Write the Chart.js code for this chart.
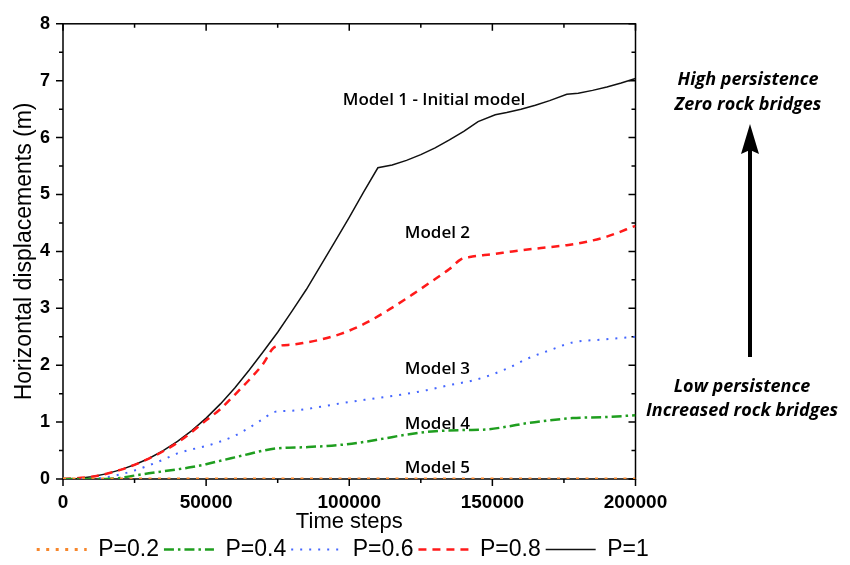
<!DOCTYPE html>
<html>
<head>
<meta charset="utf-8">
<script src="https://cdn.jsdelivr.net/npm/chart.js@4.4.1/dist/chart.umd.min.js"></script>
<style>
  html, body { margin: 0; padding: 0; background: #fff; }
</style>
</head>
<body>
<canvas id="myChart" width="850" height="565"></canvas>
<script>
  // values
  const seriesLabels = ['P=0.2', 'P=0.4', 'P=0.6', 'P=0.8', 'P=1'];

  const stepsP02 = [0, 50000, 100000, 150000, 200000];
  const dispP02 = [0, 0, 0, 0, 0];

  const stepsP04 = [0, 15000, 20000, 25000, 30000, 40000, 45000, 50000, 55000, 60000, 65000, 70000, 75000, 85000, 97000, 105000, 112000, 120000, 130000, 140000, 148000, 155000, 162000, 170000, 178000, 190000, 200000];
  const dispP04 = [0, 0, 0.02, 0.06, 0.1, 0.17, 0.21, 0.26, 0.32, 0.38, 0.44, 0.5, 0.54, 0.56, 0.6, 0.65, 0.71, 0.78, 0.84, 0.86, 0.87, 0.92, 0.98, 1.03, 1.07, 1.09, 1.12];

  const stepsP06 = [0, 10000, 15000, 20000, 25000, 30000, 35000, 40000, 45000, 50000, 55000, 60000, 65000, 70000, 74000, 80000, 90000, 97000, 108000, 118000, 127000, 136000, 143000, 149000, 156000, 162000, 171000, 178000, 188000, 200000];
  const dispP06 = [0, 0, 0.03, 0.08, 0.15, 0.24, 0.34, 0.45, 0.52, 0.58, 0.66, 0.76, 0.9, 1.06, 1.18, 1.2, 1.27, 1.33, 1.41, 1.48, 1.56, 1.66, 1.73, 1.82, 1.96, 2.11, 2.28, 2.4, 2.45, 2.5];

  const stepsP08 = [0, 10000, 20000, 30000, 40000, 50000, 55000, 60000, 65000, 70000, 74000, 80000, 85000, 90000, 97000, 105000, 114000, 122000, 129000, 135000, 139000, 143000, 150000, 157000, 167000, 176000, 183000, 190000, 200000];
  const dispP08 = [0, 0.04, 0.16, 0.36, 0.64, 1.03, 1.23, 1.48, 1.74, 2.03, 2.32, 2.36, 2.4, 2.45, 2.55, 2.72, 2.98, 3.24, 3.48, 3.69, 3.86, 3.91, 3.95, 4.0, 4.06, 4.11, 4.17, 4.26, 4.45];

  const stepsP1 = [0, 5000, 10000, 15000, 20000, 25000, 30000, 35000, 40000, 45000, 50000, 55000, 60000, 65000, 70000, 75000, 80000, 85000, 90000, 95000, 100000, 105000, 110000, 115000, 120000, 125000, 130000, 135000, 140000, 145000, 151000, 155000, 160000, 165000, 170000, 176000, 180000, 185000, 190000, 195000, 200000];
  const dispP1 = [0, 0.01, 0.04, 0.09, 0.16, 0.25, 0.36, 0.5, 0.66, 0.85, 1.07, 1.32, 1.6, 1.91, 2.24, 2.58, 2.95, 3.33, 3.75, 4.17, 4.6, 5.04, 5.47, 5.52, 5.6, 5.7, 5.82, 5.96, 6.11, 6.28, 6.4, 6.44, 6.5, 6.57, 6.65, 6.76, 6.78, 6.83, 6.89, 6.96, 7.04];

  const xTicksMajor = 50000;

  const pts = (xs, ys) => xs.map((v, i) => ({ x: v, y: ys[i] }));

  const data1 = {
    datasets: [
      { label: seriesLabels[0], data: pts(stepsP02, dispP02), borderColor: '#f7862b', borderWidth: 3, borderDash: [3, 6.5] },
      { label: seriesLabels[1], data: pts(stepsP04, dispP04), borderColor: '#1f9e1f', borderWidth: 2.5, borderDash: [10, 4, 2.5, 4] },
      { label: seriesLabels[2], data: pts(stepsP06, dispP06), borderColor: '#4466ff', borderWidth: 2, borderDash: [2, 7] },
      { label: seriesLabels[3], data: pts(stepsP08, dispP08), borderColor: '#ff1a1a', borderWidth: 2.5, borderDash: [8, 6] },
      { label: seriesLabels[4], data: pts(stepsP1, dispP1), borderColor: '#111111', borderWidth: 1.5,
        cubicInterpolationMode: 'default', tension: 0 }
    ]
  };

  // text placed at data coordinates
  const modelNotes = [
    { text: 'Model 1 - Initial model', x: 129600, y: 6.57 },
    { text: 'Model 2', x: 130800, y: 4.23 },
    { text: 'Model 3', x: 130800, y: 1.85 },
    { text: 'Model 4', x: 130800, y: 0.87 },
    { text: 'Model 5', x: 130800, y: 0.11 }
  ];

  const axisFont = 'Liberation Sans, Arial, sans-serif';

  const frameTicks = {
    id: 'frameTicks',
    beforeDatasetsDraw(chart) {
      const { ctx, chartArea: a, scales: { x, y } } = chart;
      ctx.save();
      ctx.strokeStyle = '#000';
      ctx.lineWidth = 1.5;
      ctx.strokeRect(a.left, a.top, a.right - a.left, a.bottom - a.top);
      ctx.beginPath();
      x.ticks.forEach(t => {
        const px = x.getPixelForValue(t.value);
        const len = t.value % xTicksMajor === 0 ? 7 : 4;
        ctx.moveTo(px, a.bottom); ctx.lineTo(px, a.bottom + len);
        ctx.moveTo(px, a.top); ctx.lineTo(px, a.top + len);
      });
      y.ticks.forEach(t => {
        const py = y.getPixelForValue(t.value);
        const len = Number.isInteger(t.value) ? 7 : 4;
        ctx.moveTo(a.left, py); ctx.lineTo(a.left - len, py);
        ctx.moveTo(a.right, py); ctx.lineTo(a.right - len, py);
      });
      ctx.stroke();
      ctx.restore();
    }
  };

  const notes = {
    id: 'notes',
    afterDraw(chart) {
      const { ctx, scales: { x, y } } = chart;
      ctx.save();
      ctx.fillStyle = '#000';
      ctx.textAlign = 'center';
      ctx.textBaseline = 'alphabetic';
      ctx.font = '600 17px "Open Sans"';
      modelNotes.forEach(n => ctx.fillText(n.text, x.getPixelForValue(n.x), y.getPixelForValue(n.y)));

      ctx.font = 'italic 700 18px "Open Sans"';
      ctx.fillText('High persistence', 748, 85);
      ctx.fillText('Zero rock bridges', 748, 110);
      ctx.fillText('Low persistence', 742, 392);
      ctx.fillText('Increased rock bridges', 742, 416);

      // arrow
      ctx.fillRect(748, 150, 4, 207);
      ctx.beginPath();
      ctx.moveTo(750, 124);
      ctx.lineTo(759, 154);
      ctx.lineTo(750, 150);
      ctx.lineTo(741, 154);
      ctx.closePath();
      ctx.fill();
      ctx.restore();
    }
  };

  const legendShift = {
    id: 'legendShift',
    afterLayout(chart) {
      chart.legend.left = 31.7;
      chart.legend.top += 6;
    }
  };

  const config1 = {
    type: 'line',
    data: data1,
    options: {
      responsive: false,
      animation: false,
      layout: { padding: { top: 18, right: 0, left: 0, bottom: 0 } },
      elements: {
        point: { radius: 0 },
        line: { cubicInterpolationMode: 'monotone', fill: false }
      },
      scales: {
        x: {
          type: 'linear',
          min: 0,
          max: 200000,
          afterFit(s) { s.height = 48; },
          grid: { display: false, drawTicks: false },
          border: { display: false },
          ticks: {
            stepSize: 25000,
            autoSkip: false,
            maxRotation: 0,
            padding: 12,
            color: '#000',
            font: { family: axisFont, size: 19, weight: 'bold' },
            callback: v => v % xTicksMajor === 0 ? String(v) : ''
          },
          title: {
            display: true,
            text: 'Time steps',
            color: '#000',
            font: { family: axisFont, size: 22 },
            padding: { top: 0, bottom: -8 }
          }
        },
        y: {
          min: 0,
          max: 8,
          afterFit(s) { s.width = 63; },
          grid: { display: false, drawTicks: false },
          border: { display: false },
          ticks: {
            stepSize: 0.5,
            autoSkip: false,
            padding: 13,
            color: '#000',
            font: { family: axisFont, size: 18, weight: 'bold' },
            callback: v => Number.isInteger(v) ? String(v) : ''
          },
          title: {
            display: true,
            text: 'Horizontal displacements (m)',
            color: '#000',
            font: { family: axisFont, size: 23 },
            padding: { top: 11, bottom: 0 }
          }
        },
        // empty right-hand strip that holds the side notes
        side: {
          type: 'linear',
          position: 'right',
          afterFit(s) { s.width = 214.5; },
          grid: { display: false, drawTicks: false },
          border: { display: false },
          ticks: { display: false }
        }
      },
      plugins: {
        tooltip: { enabled: false },
        legend: {
          position: 'bottom',
          align: 'start',
          labels: {
            usePointStyle: true,
            pointStyle: 'line',
            pointStyleWidth: 50,
            padding: 5,
            color: '#000',
            font: { family: axisFont, size: 23 },
            generateLabels(chart) {
              const items = Chart.defaults.plugins.legend.labels.generateLabels(chart);
              return items.map(it => {
                const ds = chart.data.datasets[it.datasetIndex];
                it.lineDash = ds.borderDash || [];
                it.lineWidth = ds.borderWidth;
                it.strokeStyle = ds.borderColor;
                it.pointStyle = 'line';
                return it;
              });
            }
          }
        }
      }
    },
    plugins: [frameTicks, notes, legendShift]
  };

  const myChart = new Chart(
    document.getElementById('myChart'),
    config1
  );
</script>
</body>
</html>
